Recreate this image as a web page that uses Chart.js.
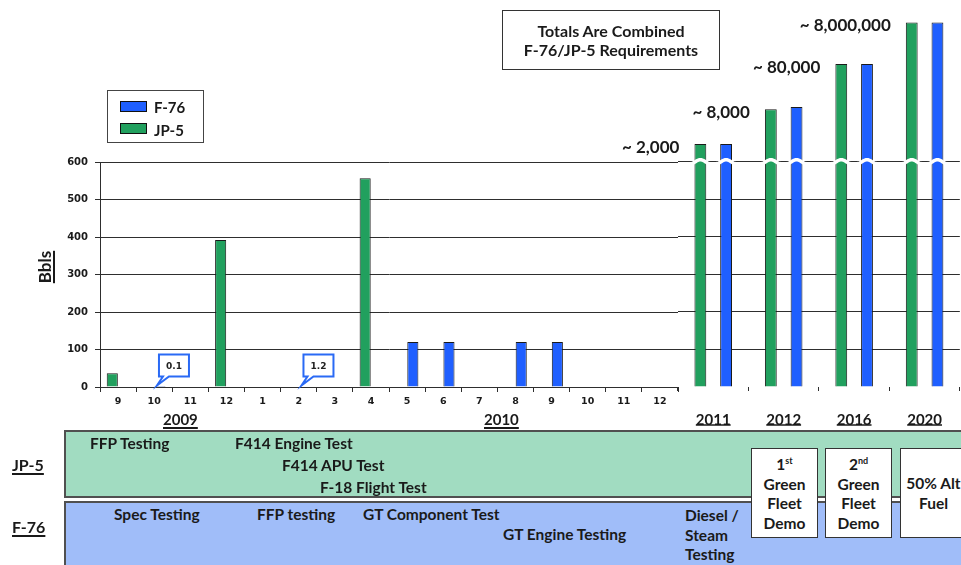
<!DOCTYPE html>
<html lang="en">
<head>
<meta charset="UTF-8">
<meta name="viewport" content="width=device-width, initial-scale=1.0">
<script src="https://cdn.jsdelivr.net/npm/chart.js"></script>
<title>F-76 / JP-5 Requirements</title>
<style>
  body { margin:0; width:961px; height:565px; overflow:hidden; position:relative; background:#fff;
         font-family: Lato, "Open Sans", sans-serif; color:#1a1a1a; }
  .box { position:absolute; box-sizing:border-box; }
  .t { position:absolute; font-weight:bold; font-size:15.5px; line-height:18px; white-space:nowrap; }
  .u { text-decoration:underline; text-underline-offset:2px; text-decoration-thickness:1.5px; }
  .band { position:absolute; left:64px; width:920px; box-sizing:border-box; border:2px solid #505050; }
  .note { position:absolute; top:448px; width:67px; height:90px; box-sizing:border-box; border:1.5px solid #333;
          background:#fff; text-align:center; font-weight:bold; font-size:15.5px; line-height:19.5px; padding-top:6px; }
  .sw { position:absolute; width:27px; height:11px; box-sizing:border-box; border:1px solid #111; }
</style>
</head>
<body>

<div class="box" style="left:0;top:0;width:681px;height:430px"><canvas id="monthChart"></canvas></div>
<div class="box" style="left:560px;top:0;width:402px;height:430px"><canvas id="yearChart"></canvas></div>

<!-- legend -->
<div class="box" style="left:107px;top:90px;width:97px;height:53px;border:1.5px solid #444"></div>
<div class="sw" style="left:120px;top:101px;background:#1f5fff"></div>
<div class="t" style="left:154px;top:98px;font-size:15px">F-76</div>
<div class="sw" style="left:120px;top:123px;background:#21a05e"></div>
<div class="t" style="left:154px;top:121px;font-size:15px">JP-5</div>

<div class="box" style="left:502px;top:10px;width:218px;height:60px;border:1.5px solid #333;text-align:center;font-weight:bold;font-size:16px;line-height:19px;padding-top:10px">
  Totals Are Combined<br>F-76/JP-5 Requirements
</div>

<div class="t u" style="left:45px;top:267px;font-size:17px;transform:translate(-50%,-50%) rotate(-90deg)">Bbls</div>

<div class="t u" style="left:163px;top:410px;font-size:15px">2009</div>
<div class="t u" style="left:484px;top:410px;font-size:15px">2010</div>

<!-- test bands -->
<div class="band" style="top:430px;height:68px;background:#a1dcc1"></div>
<div class="band" style="top:501px;height:80px;background:#a0bdf9"></div>

<div class="t u" style="left:12px;top:456px;font-size:16px">JP-5</div>
<div class="t u" style="left:12px;top:518px;font-size:16px">F-76</div>

<div class="t" style="left:90px;top:434px">FFP Testing</div>
<div class="t" style="left:235px;top:434px">F414 Engine Test</div>
<div class="t" style="left:282px;top:456px">F414 APU Test</div>
<div class="t" style="left:320px;top:478px">F-18 Flight Test</div>

<div class="t" style="left:114px;top:505px">Spec Testing</div>
<div class="t" style="left:257px;top:505px">FFP testing</div>
<div class="t" style="left:363px;top:505px">GT Component Test</div>
<div class="t" style="left:503px;top:525px">GT Engine Testing</div>
<div class="t" style="left:685px;top:506px;line-height:19.5px">Diesel /<br>Steam<br>Testing</div>

<div class="note" style="left:751px">1<sup style="font-size:9px;line-height:0">st</sup><br>Green<br>Fleet<br>Demo</div>
<div class="note" style="left:825px">2<sup style="font-size:9px;line-height:0">nd</sup><br>Green<br>Fleet<br>Demo</div>
<div class="note" style="left:900px;padding-top:25px">50% Alt<br>Fuel</div>

<script>
const months = ['9', '10', '11', '12', '1', '2', '3', '4', '5', '6', '7', '8', '9', '10', '11', '12'];
const jp5Monthly = [37, null, null, 392, null, null, null, 557, null, null, null, null, null, null, null, null];
const f76Monthly = [null, 0.1, null, null, null, 1.2, null, null, 120, 120, null, 120, 120, null, null, null];

const years = ['2011', '2012', '2016', '2020'];
// heights as drawn above the broken axis; the real totals are in yearTotals
const jp5Yearly = [647, 740, 860, 971];
const f76Yearly = [647, 746, 860, 971];
const yearTotals = ['~ 2,000', '~ 8,000', '~ 80,000', '~ 8,000,000'];

const yMax = 600;   // top of the monthly axis = where the axis is broken
const yStep = 100;

const blue = '#1f5fff';
const green = '#21a05e';
const edge = '#1a1a1a';
const lineColor = '#2e2e2e';
const textColor = '#1a1a1a';

// little blue call-out boxes for the tiny values
const callouts = {
    id: 'callouts',
    afterDatasetsDraw(chart) {
        const ctx = chart.ctx;
        chart.getDatasetMeta(1).data.forEach((bar, i) => {
            const v = f76Monthly[i];
            if (v === null || v >= 5) return;
            const left = bar.x - 1, right = left + 30;
            const bottom = bar.base - 10, top = bottom - 22;
            ctx.save();
            ctx.beginPath();
            ctx.moveTo(left, top);
            ctx.lineTo(right, top);
            ctx.lineTo(right, bottom);
            ctx.lineTo(bar.x + 9, bottom);
            ctx.lineTo(bar.x - 3, bar.base - 1);
            ctx.lineTo(bar.x + 3, bottom);
            ctx.lineTo(left, bottom);
            ctx.closePath();
            ctx.fillStyle = '#fff';
            ctx.fill();
            ctx.strokeStyle = '#2a6af5';
            ctx.lineWidth = 2;
            ctx.stroke();
            ctx.fillStyle = '#222';
            ctx.font = 'bold 9px "DejaVu Sans"';
            ctx.textAlign = 'center';
            ctx.textBaseline = 'middle';
            ctx.fillText(String(v), (left + right) / 2, (top + bottom) / 2 + 1);
            ctx.restore();
        });
    }
};

// white squiggle where the tall bars cross the break line
const axisBreak = {
    id: 'axisBreak',
    afterDatasetsDraw(chart) {
        const ctx = chart.ctx;
        const y = chart.scales.y.getPixelForValue(yMax);
        chart.data.datasets.forEach((ds, d) => {
            chart.getDatasetMeta(d).data.forEach((bar, i) => {
                if (ds.data[i] <= yMax) return;
                const hw = bar.width / 2 + 4;
                ctx.save();
                ctx.strokeStyle = '#fff';
                ctx.lineWidth = 3.5;
                ctx.beginPath();
                for (let k = 0; k <= 20; k++) {
                    const t = k / 20;
                    const px = bar.x - hw + t * 2 * hw;
                    const py = y + 2 * Math.cos(t * Math.PI * 2);
                    if (k === 0) ctx.moveTo(px, py); else ctx.lineTo(px, py);
                }
                ctx.stroke();
                ctx.restore();
            });
        });
    }
};

const totals = {
    id: 'totals',
    afterDatasetsDraw(chart) {
        const ctx = chart.ctx;
        chart.getDatasetMeta(0).data.forEach((bar, i) => {
            ctx.save();
            ctx.font = 'bold 17px Lato';
            ctx.fillStyle = textColor;
            ctx.textAlign = 'right';
            ctx.textBaseline = 'middle';
            ctx.fillText(yearTotals[i], bar.x - 21, bar.y + 3);
            ctx.restore();
        });
    }
};

const underlineTicks = {
    id: 'underlineTicks',
    afterDraw(chart) {
        const sc = chart.scales.x, ctx = chart.ctx;
        ctx.save();
        ctx.font = 'bold 15px Lato';
        ctx.strokeStyle = textColor;
        ctx.lineWidth = 1.5;
        chart.data.labels.forEach((lab, i) => {
            const x = sc.getPixelForTick(i);
            const w = ctx.measureText(lab).width;
            const y = sc.top + 38;
            ctx.beginPath();
            ctx.moveTo(x - w / 2, y);
            ctx.lineTo(x + w / 2, y);
            ctx.stroke();
        });
        ctx.restore();
    }
};

const tickFont = { family: 'DejaVu Sans', weight: 'bold' };

new Chart(document.getElementById('monthChart'), {
    type: 'bar',
    data: {
        labels: months,
        datasets: [
            { label: 'JP-5', data: jp5Monthly, backgroundColor: green, borderColor: edge, borderWidth: 1,
              categoryPercentage: 0.64, barPercentage: 0.96 },
            { label: 'F-76', data: f76Monthly, backgroundColor: blue, borderColor: edge, borderWidth: 1,
              categoryPercentage: 0.64, barPercentage: 0.96 }
        ]
    },
    options: {
        responsive: true,
        maintainAspectRatio: false,
        animation: false,
        layout: { padding: { top: 162, right: 3, left: 0, bottom: 0 } },
        plugins: { legend: { display: false }, tooltip: { enabled: false } },
        scales: {
            x: {
                grid: { drawOnChartArea: false, tickLength: 5, color: lineColor },
                border: { color: lineColor },
                ticks: { font: { ...tickFont, size: 9.5 }, color: textColor, padding: 4, maxRotation: 0, autoSkip: false },
                afterFit: s => { s.height = 43; }
            },
            y: {
                min: 0,
                max: yMax,
                ticks: { stepSize: yStep, padding: 7, font: { ...tickFont, size: 10 }, color: textColor },
                grid: { color: lineColor, tickLength: 5 },
                border: { color: lineColor },
                afterFit: s => { s.width = 100; }
            }
        }
    },
    plugins: [callouts]
});

new Chart(document.getElementById('yearChart'), {
    type: 'bar',
    data: {
        labels: years,
        datasets: [
            { label: 'JP-5', data: jp5Yearly, backgroundColor: green, borderColor: edge, borderWidth: 1,
              categoryPercentage: 0.73, barPercentage: 0.46 },
            { label: 'F-76', data: f76Yearly, backgroundColor: blue, borderColor: edge, borderWidth: 1,
              categoryPercentage: 0.73, barPercentage: 0.46 }
        ]
    },
    options: {
        responsive: true,
        maintainAspectRatio: false,
        animation: false,
        layout: { padding: { top: 11.5, right: 0, left: 118, bottom: 0 } },
        plugins: { legend: { display: false }, tooltip: { enabled: false } },
        scales: {
            x: {
                grid: { drawOnChartArea: false, tickLength: 4, color: lineColor },
                border: { display: false },
                ticks: { font: { family: 'Lato', weight: 'bold', size: 15 }, color: textColor, padding: 20 },
                afterFit: s => { s.height = 43; }
            },
            y: {
                min: 0,
                max: 1000,
                ticks: { display: false, stepSize: yStep },
                grid: {
                    drawTicks: false,
                    color: c => (c.tick && c.tick.value > 0 && c.tick.value <= yMax) ? lineColor : 'rgba(0,0,0,0)'
                },
                border: { display: false },
                afterFit: s => { s.width = 0; }
            }
        }
    },
    plugins: [axisBreak, totals, underlineTicks]
});
</script>
</body>
</html>
